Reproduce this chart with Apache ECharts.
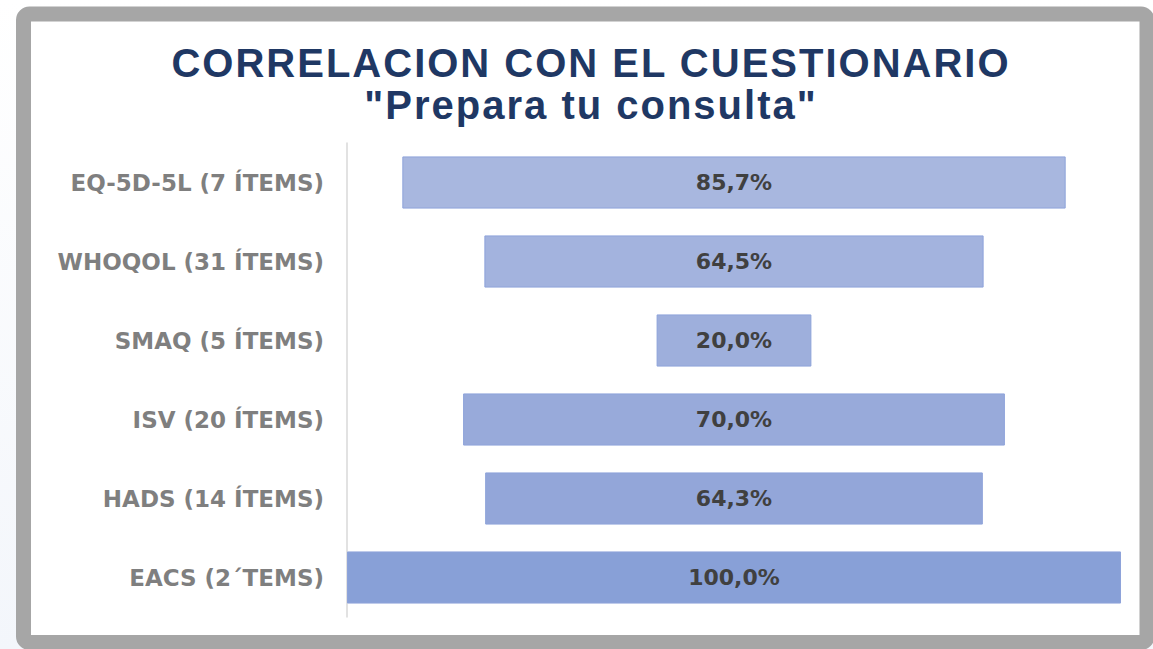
<!DOCTYPE html>
<html>
<head>
<meta charset="utf-8">
<title>Correlacion con el cuestionario</title>
<script src="https://cdn.jsdelivr.net/npm/echarts@6/dist/echarts.min.js"></script>
<style>
  html, body { margin: 0; padding: 0; }
  body { background: linear-gradient(to bottom, #ffffff 0%, #f3f6fb 100%); }
  #chart { width: 1153px; height: 649px; }
  /* el titulo del original va con letras muy espaciadas */
  #chart svg text[style*="Liberation"] { letter-spacing: 2px; }
</style>
</head>
<body>
<div id="chart"></div>
<script>
var categories = [
  "EQ-5D-5L (7 ÍTEMS)",
  "WHOQOL (31 ÍTEMS)",
  "SMAQ (5 ÍTEMS)",
  "ISV (20 ÍTEMS)",
  "HADS (14 ÍTEMS)",
  "EACS (2´TEMS)"
];
var values = [85.7, 64.5, 20.0, 70.0, 64.3, 100.0];
var titleText = "CORRELACION CON EL CUESTIONARIO";
var subtitleText = "\"Prepara tu consulta\"";

// colores de barra, se oscurecen hacia abajo
var barColors = ["#a8b7df", "#a3b3de", "#9eafdc", "#98aada", "#93a6d9", "#88a0d7"];

// hueco transparente para centrar cada barra
var offsets = values.map(function (v) { return (100 - v) / 2; });

var chart = echarts.init(document.getElementById("chart"), null, { renderer: "svg" });
var option = {
  animation: false,
  graphic: [
    {
      type: "rect",
      z: -10,
      shape: { x: 23.5, y: 14, width: 1123.5, height: 628.5, r: 6 },
      style: { fill: "#ffffff", stroke: "#a6a6a6", lineWidth: 15 }
    }
  ],
  title: {
    text: titleText + "\n" + subtitleText,
    left: 586,
    top: 37,
    textAlign: "center",
    textStyle: {
      color: "#1f3864",
      fontFamily: "Liberation Sans",
      fontWeight: "bold",
      fontSize: 40,
      lineHeight: 42
    }
  },
  grid: {
    left: 347,
    right: 32,
    top: 143,
    bottom: 32,
    containLabel: false
  },
  xAxis: {
    type: "value",
    min: 0,
    max: 100,
    show: false
  },
  yAxis: {
    type: "category",
    inverse: true,
    data: categories,
    axisLine: { show: true, lineStyle: { color: "#d9d9d9", width: 1.5 } },
    axisTick: { show: false },
    axisLabel: {
      margin: 23,
      color: "#7f7f7f",
      fontFamily: "DejaVu Sans",
      fontWeight: "bold",
      fontSize: 23
    }
  },
  series: [
    {
      name: "offset",
      type: "bar",
      stack: "t",
      silent: true,
      barWidth: "66%",
      itemStyle: { color: "transparent" },
      data: offsets
    },
    {
      name: "valor",
      type: "bar",
      stack: "t",
      barWidth: "66%",
      data: values.map(function (v, i) {
        return {
          value: v,
          itemStyle: { color: barColors[i] }
        };
      }),
      itemStyle: { borderColor: "#8ea3da", borderWidth: 1 },
      label: {
        show: true,
        position: "inside",
        color: "#404040",
        fontFamily: "DejaVu Sans",
        fontWeight: "bold",
        fontSize: 22,
        formatter: function (p) {
          return p.value.toFixed(1).replace(".", ",") + "%";
        }
      }
    }
  ]
};
chart.setOption(option);
window.addEventListener("resize", function () {
  chart.resize();
});
</script>
</body>
</html>
